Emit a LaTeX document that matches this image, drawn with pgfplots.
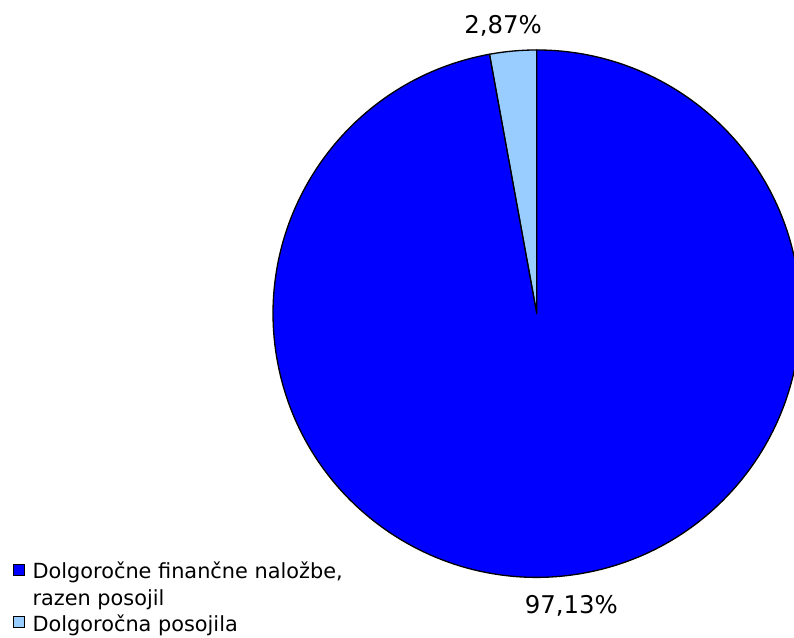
\documentclass[border=0pt]{standalone}
\usepackage{fontspec}
\setmainfont{DejaVu Sans}
\usepackage{pgfplots}
\usepackage{pgfplotstable}
\pgfplotsset{compat=1.18}
\definecolor{pieblue}{RGB}{0,0,255}
\definecolor{pielight}{RGB}{153,204,255}

\pgfplotstableread{
id value
0 97.13
1 2.87
}\piedata

\begin{document}
\pgfplotstablegetelem{0}{value}\of\piedata \let\va\pgfplotsretval
\pgfplotstablegetelem{1}{value}\of\piedata \let\vb\pgfplotsretval
\pgfmathsetmacro\angB{90+3.6*\vb}
\pgfmathsetmacro\angEnd{90+3.6*(\va+\vb)}
\begin{tikzpicture}
\useasboundingbox (0pt,0pt) rectangle (595.5pt,483pt);
\clip (0pt,0pt) rectangle (595.5pt,483pt);
\begin{axis}[
  at={(400.5pt,245.25pt)}, anchor=center,
  width=399.75pt, height=399.75pt, scale only axis,
  xmin=-1, xmax=1, ymin=-1, ymax=1,
  hide axis, clip=false,
  legend cell align=left,
  legend style={at={(-0.4923,0.032)}, anchor=north west, draw=none, fill=none,
    inner sep=0pt, outer sep=0pt, row sep=0pt, column sep=5.5pt,
    font=\fontsize{15.8}{19.9}\selectfont,
    nodes={inner sep=0pt, text height=13.9pt, text depth=6pt}},
  legend image code/.code={\path (0pt,-4.8pt); \draw[#1, line width=0.75pt] (0pt,-1.2pt) rectangle (8.25pt,7.05pt);},
]
\addlegendimage{fill=pieblue, draw=black}
\addlegendentry{Dolgoročne finančne naložbe,}
\addlegendimage{empty legend}
\addlegendentry{razen posojil}
\addlegendimage{fill=pielight, draw=black}
\addlegendentry{Dolgoročna posojila}

\filldraw[fill=pielight, draw=black, line width=1pt, line join=round]
  (axis cs:0,0) -- (axis cs:0,1) arc[start angle=90, end angle=\angB, radius=199.875pt] -- cycle;
\filldraw[fill=pieblue, draw=black, line width=1pt, line join=round]
  (axis cs:0,0) -- (axis cs:{cos(\angB)},{sin(\angB)}) arc[start angle=\angB, end angle=\angEnd, radius=199.875pt] -- cycle;

\node[font=\fontsize{18.5}{22}\selectfont] at (axis cs:-0.1276,1.092)
  {\pgfmathprintnumber[fixed, fixed zerofill, precision=2, use comma, assume math mode=true]{\vb}\%};
\node[font=\fontsize{18.5}{22}\selectfont] at (axis cs:0.131,-1.11)
  {\pgfmathprintnumber[fixed, fixed zerofill, precision=2, use comma, assume math mode=true]{\va}\%};
\end{axis}
\end{tikzpicture}
\end{document}
